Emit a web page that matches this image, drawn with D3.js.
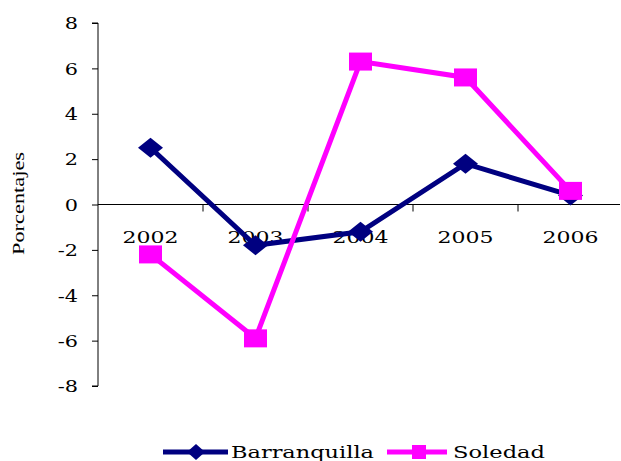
<!DOCTYPE html>
<html><head><meta charset="utf-8">
<script src="https://cdn.jsdelivr.net/npm/d3@7"></script>
<style>body{margin:0;background:#fff;}svg{display:block;}</style>
</head><body>
<svg id="c" width="621" height="461"></svg>
<script>
const years = ["2002","2003","2004","2005","2006"];
const barranquilla = [2.5, -1.8, -1.2, 1.8, 0.4];
const soledad = [-2.2, -5.9, 6.3, 5.6, 0.6];
const yTicks = [-8,-6,-4,-2,0,2,4,6,8];

(function(){
const svg = d3.select("#c");
const mLeft = 98, mRight = 623, mTop = 23, mBottom = 386;
const x = d3.scaleBand().domain(years).range([mLeft, mRight]);
const y = d3.scaleLinear().domain([-8, 8]).range([mBottom, mTop]);
const font = "DejaVu Serif";

function stretch(sel, factor) {
  sel.each(function(){
    const w = this.getComputedTextLength();
    d3.select(this).attr("textLength", w * factor).attr("lengthAdjust", "spacingAndGlyphs");
  });
}

// y axis
const ya = svg.append("g").attr("transform", `translate(${mLeft},0)`)
  .call(d3.axisLeft(y).tickValues(yTicks).tickSize(6).tickPadding(14).tickFormat(d => String(d)));
ya.select(".domain").attr("stroke", "#000").attr("d", `M-6,${mBottom}H0V${mTop}H-6`);
ya.selectAll(".tick line").attr("stroke", "#000");
const yt = ya.selectAll("text").attr("font-family", font).attr("font-size", 16).attr("fill", "#000").attr("dy", "0.36em");
stretch(yt, 1.3);

// x axis at zero
const xa = svg.append("g").attr("transform", `translate(0,${y(0)})`);
xa.append("line").attr("x1", mLeft).attr("x2", 620).attr("stroke", "#000");
xa.selectAll("line.t").data(years.slice(1)).enter().append("line").attr("class","t")
  .attr("x1", d => x(d)).attr("x2", d => x(d)).attr("y1", 0).attr("y2", 7).attr("stroke", "#000");
const xt = xa.selectAll("text").data(years).enter().append("text")
  .attr("x", d => x(d) + x.bandwidth() / 2).attr("y", 38.5)
  .attr("text-anchor", "middle").attr("font-family", font).attr("font-size", 16)
  .text(d => d);
xt.attr("textLength", 56).attr("lengthAdjust", "spacingAndGlyphs");

// y label
svg.append("text").attr("transform", `translate(24,203.5) rotate(-90)`)
  .attr("text-anchor", "middle").attr("font-family", "Liberation Serif").attr("font-size", 16)
  .attr("textLength", 103).attr("lengthAdjust", "spacingAndGlyphs")
  .text("Porcentajes");

const cx = d => x(d) + x.bandwidth() / 2;
const line = d3.line().x((d, i) => cx(years[i])).y(d => y(d));

function diamond(g, px, py, w, h) {
  g.append("path").attr("d", `M${px},${py - h}L${px + w},${py}L${px},${py + h}L${px - w},${py}Z`).attr("fill", "#000080");
}
function square(g, px, py, w, h) {
  g.append("rect").attr("x", px - w).attr("y", py - h).attr("width", 2 * w).attr("height", 2 * h).attr("fill", "#FF00FF");
}

svg.append("path").datum(barranquilla).attr("d", line).attr("fill", "none")
  .attr("stroke", "#000080").attr("stroke-width", 5).attr("stroke-linejoin", "miter");
const gb = svg.append("g");
barranquilla.forEach((v, i) => diamond(gb, cx(years[i]), y(v), 12.5, 10));

svg.append("path").datum(soledad).attr("d", line).attr("fill", "none")
  .attr("stroke", "#FF00FF").attr("stroke-width", 5).attr("stroke-linejoin", "miter");
const gs = svg.append("g");
soledad.forEach((v, i) => square(gs, cx(years[i]), y(v), 11.5, 9));

const lg = svg.append("g");
lg.append("line").attr("x1", 163).attr("x2", 228).attr("y1", 452).attr("y2", 452).attr("stroke", "#000080").attr("stroke-width", 5);
diamond(lg, 196, 452, 9, 8);
lg.append("text").attr("x", 231).attr("y", 457.5).attr("font-family", font).attr("font-size", 17)
  .attr("textLength", 143).attr("lengthAdjust", "spacingAndGlyphs").text("Barranquilla");
lg.append("line").attr("x1", 387).attr("x2", 447).attr("y1", 452).attr("y2", 452).attr("stroke", "#FF00FF").attr("stroke-width", 5);
square(lg, 419, 452, 7, 7);
lg.append("text").attr("x", 453).attr("y", 457.5).attr("font-family", font).attr("font-size", 17)
  .attr("textLength", 92).attr("lengthAdjust", "spacingAndGlyphs").text("Soledad");
})();
</script>
</body></html>
